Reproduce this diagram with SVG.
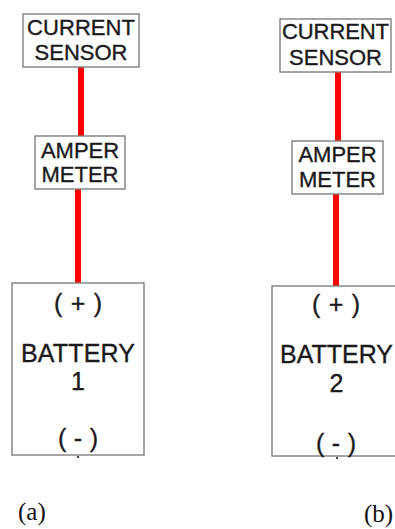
<svg xmlns="http://www.w3.org/2000/svg" width="395" height="529" viewBox="0 0 395 529">
<style>
.box{fill:#fff;stroke:#7f7f7f;stroke-width:1.4}
.wire{stroke:#ff0000;stroke-width:6;fill:none}
.lbl{font-family:"Liberation Sans",Arial,sans-serif;font-size:22px;fill:#1a1a1a;stroke:#1a1a1a;stroke-width:0.35;text-anchor:middle}
.bat{font-family:"Liberation Sans",Arial,sans-serif;font-size:25px;fill:#1a1a1a;stroke:#1a1a1a;stroke-width:0.35;text-anchor:middle}
.cap{font-family:"Liberation Serif","Times New Roman",serif;font-size:25px;fill:#111}
.dot{fill:#444}
</style>
<rect width="395" height="529" fill="#fff"/>
<g id="connectors">
<line class="wire" x1="81" y1="67" x2="81" y2="136"/>
<line class="wire" x1="78" y1="189" x2="78" y2="284"/>
<line class="wire" x1="338" y1="72" x2="338" y2="141"/>
<line class="wire" x1="336" y1="194" x2="336" y2="286"/>
</g>
<g id="sensor-a">
<rect class="box" x="23" y="14" width="116" height="53"/>
<text class="lbl" x="81" y="35" textLength="108">CURRENT</text>
<text class="lbl" x="81" y="60">SENSOR</text>
</g>
<g id="meter-a">
<rect class="box" x="35" y="136" width="90" height="53"/>
<text class="lbl" x="80" y="158">AMPER</text>
<text class="lbl" x="80" y="182">METER</text>
</g>
<g id="battery-a">
<rect class="box" x="12" y="283" width="132" height="172"/>
<text class="bat" x="78" y="312" textLength="48">( + )</text>
<text class="bat" x="78" y="362" textLength="114">BATTERY</text>
<text class="bat" x="78" y="390">1</text>
<text class="bat" x="78" y="447" textLength="40">( - )</text>
<rect class="dot" x="77" y="456" width="2" height="2"/>
</g>
<g id="sensor-b">
<rect class="box" x="280" y="19" width="111" height="53"/>
<text class="lbl" x="335.5" y="39" textLength="107">CURRENT</text>
<text class="lbl" x="335.5" y="65">SENSOR</text>
</g>
<g id="meter-b">
<rect class="box" x="292" y="141" width="91" height="53"/>
<text class="lbl" x="337.5" y="162">AMPER</text>
<text class="lbl" x="337.5" y="187">METER</text>
</g>
<g id="battery-b">
<rect class="box" x="272" y="286" width="130" height="170"/>
<text class="bat" x="336" y="313" textLength="48">( + )</text>
<text class="bat" x="336.5" y="363" textLength="113">BATTERY</text>
<text class="bat" x="336.5" y="392">2</text>
<text class="bat" x="336" y="452" textLength="40">( - )</text>
<rect class="dot" x="336" y="457" width="2" height="2"/>
</g>
<g id="captions">
<text class="cap" x="18" y="520">(a)</text>
<text class="cap" x="364" y="522">(b)</text>
</g>
</svg>
